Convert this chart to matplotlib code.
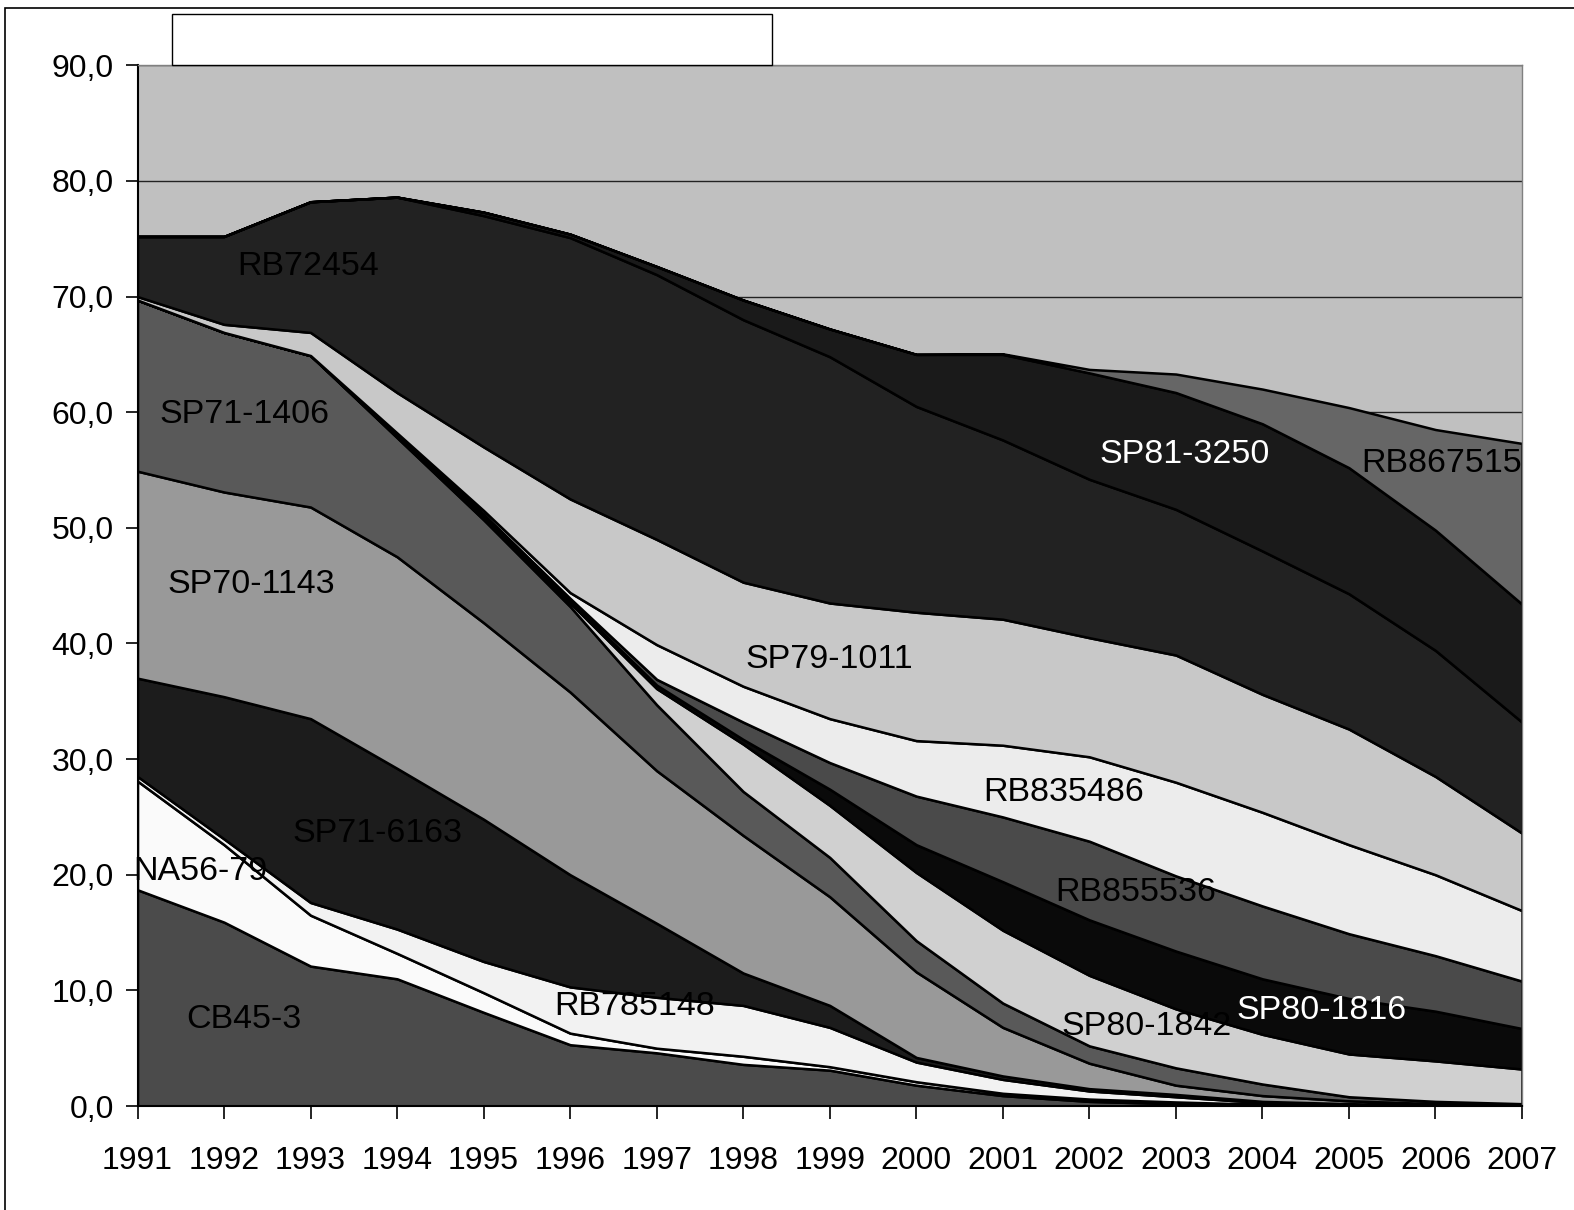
import matplotlib
matplotlib.use("Agg")
import matplotlib.pyplot as plt
from matplotlib.patches import Rectangle
from matplotlib.ticker import FuncFormatter, MultipleLocator

plt.rcParams['font.family'] = ['Liberation Sans', 'DejaVu Sans']

years = list(range(1991, 2008))

# share of each variety (%), bottom layer first
cb45_3   = [18.7, 15.9, 12.1, 11.0, 8.1, 5.3, 4.6, 3.6, 3.1, 1.8, 0.9, 0.4, 0.2, 0.1, 0.05, 0.03, 0.02]
na56_79  = [9.4, 6.7, 4.4, 2.2, 1.7, 1.0, 0.4, 0.7, 0.3, 0.3, 0.2, 0.2, 0.15, 0.05, 0.05, 0.02, 0.01]
rb785148 = [0.4, 0.5, 1.1, 2.1, 2.7, 4.0, 4.4, 4.4, 3.4, 1.7, 1.2, 0.7, 0.45, 0.15, 0.05, 0.03, 0.02]
sp71_6163 = [8.5, 12.3, 15.9, 13.9, 12.3, 9.7, 6.4, 2.8, 1.9, 0.4, 0.3, 0.2, 0.2, 0.1, 0.05, 0.02, 0.02]
sp70_1143 = [17.9, 17.7, 18.3, 18.3, 17.0, 15.8, 13.2, 11.9, 9.4, 7.4, 4.2, 2.2, 0.8, 0.5, 0.25, 0.1, 0.03]
sp71_1406 = [14.8, 13.8, 13.1, 10.3, 8.9, 7.4, 5.7, 3.8, 3.4, 2.7, 2.1, 1.5, 1.5, 1.0, 0.35, 0.2, 0.1]
sp80_1842 = [0, 0, 0, 0.1, 0.2, 0.3, 1.4, 4.1, 4.5, 5.9, 6.3, 6.1, 5.1, 4.3, 3.7, 3.5, 3.0]
sp80_1816 = [0, 0, 0, 0.1, 0.1, 0.2, 0.3, 0.4, 1.4, 2.4, 4.2, 4.8, 5.0, 4.8, 4.8, 4.3, 3.5]
rb855536 = [0, 0, 0, 0.1, 0.2, 0.2, 0.5, 1.5, 2.3, 4.2, 5.6, 6.8, 6.5, 6.3, 5.6, 4.8, 4.1]
rb835486 = [0, 0, 0, 0.1, 0.3, 0.5, 3.0, 3.1, 3.8, 4.8, 6.2, 7.3, 8.1, 8.1, 7.7, 7.0, 6.1]
sp79_1011 = [0.3, 0.7, 2.0, 3.5, 5.5, 8.1, 9.1, 9.0, 10.0, 11.1, 10.9, 10.3, 11.0, 10.2, 10.0, 8.5, 6.7]
rb72454  = [5.2, 7.6, 11.3, 16.9, 20.0, 22.6, 22.9, 22.7, 21.3, 17.8, 15.5, 13.7, 12.6, 12.4, 11.7, 10.9, 9.6]
sp81_3250 = [0, 0, 0, 0, 0.3, 0.3, 0.7, 1.7, 2.4, 4.5, 7.4, 9.2, 10.1, 11.0, 10.9, 10.4, 10.2]
rb867515 = [0, 0, 0, 0, 0, 0, 0, 0, 0, 0, 0.05, 0.3, 1.6, 3.0, 5.2, 8.7, 13.9]

series = [cb45_3, na56_79, rb785148, sp71_6163, sp70_1143, sp71_1406, sp80_1842,
          sp80_1816, rb855536, rb835486, sp79_1011, rb72454, sp81_3250, rb867515]
colors = ['#4b4b4b', '#fafafa', '#f2f2f2', '#1c1c1c', '#999999', '#595959', '#d0d0d0',
          '#0a0a0a', '#4a4a4a', '#ececec', '#c8c8c8', '#222222', '#1a1a1a', '#666666']

# area labels: (text, year, value, colour)
labels = [
    ("RB72454", 1992.97, 72.6, 'black'),
    ("SP71-1406", 1992.24, 59.8, 'black'),
    ("SP70-1143", 1992.31, 45.1, 'black'),
    ("SP71-6163", 1993.77, 23.6, 'black'),
    ("NA56-79", 1991.73, 20.3, 'black'),
    ("CB45-3", 1992.23, 7.5, 'black'),
    ("RB785148", 1996.74, 8.6, 'black'),
    ("SP79-1011", 1998.99, 38.6, 'black'),
    ("RB835486", 2001.70, 27.1, 'black'),
    ("RB855536", 2002.54, 18.5, 'black'),
    ("SP80-1842", 2002.66, 6.9, 'black'),
    ("SP80-1816", 2004.68, 8.3, 'white'),
    ("SP81-3250", 2003.10, 56.3, 'white'),
    ("RB867515", 2006.07, 55.6, 'black'),
]

W, H = 1574, 1210
fig = plt.figure(figsize=(W / 100, H / 100), dpi=100, facecolor='white')
ax = fig.add_axes([137.5/W, 1 - 1106/H, (1522-137.5)/W, (1106-65.3)/H])
ax.set_facecolor('#c0c0c0')

ax.stackplot(years, *series, colors=colors, edgecolor='black', linewidth=1.8, zorder=2)

ax.set_xlim(1991, 2007)
ax.set_ylim(0, 90)
ax.yaxis.set_major_locator(MultipleLocator(10))
ax.yaxis.set_major_formatter(FuncFormatter(lambda v, p: f"{v:.1f}".replace('.', ',')))
ax.set_xticks(years)
ax.set_xticklabels([str(y) for y in years])
ax.grid(axis='y', color='#222222', linewidth=1.0, zorder=0)
ax.set_axisbelow(True)
ax.tick_params(axis='both', labelsize=23, direction='out', length=9, width=1.2, color='black')
ax.tick_params(axis='y', pad=8)
ax.tick_params(axis='x', pad=20)

for side in ['top', 'right']:
    ax.spines[side].set_color('#808080')
    ax.spines[side].set_linewidth(1.0)
for side in ['left', 'bottom']:
    ax.spines[side].set_color('black')
    ax.spines[side].set_linewidth(1.5)

for text, x, y, c in labels:
    ax.text(x, y, text, fontsize=24.5, color=c, ha='center', va='center', zorder=5)

# outer frame and empty title box
fig.patches.append(Rectangle((5/W, -0.01), 1.0, 1 - 8/H + 0.01, transform=fig.transFigure,
                             fill=False, edgecolor='black', linewidth=1.2))
fig.patches.append(Rectangle((172/W, 1 - 64.5/H), (772-172)/W, 50.5/H, transform=fig.transFigure,
                             facecolor='white', edgecolor='black', linewidth=1.0, zorder=10))

fig.savefig("out.png", dpi=100)
